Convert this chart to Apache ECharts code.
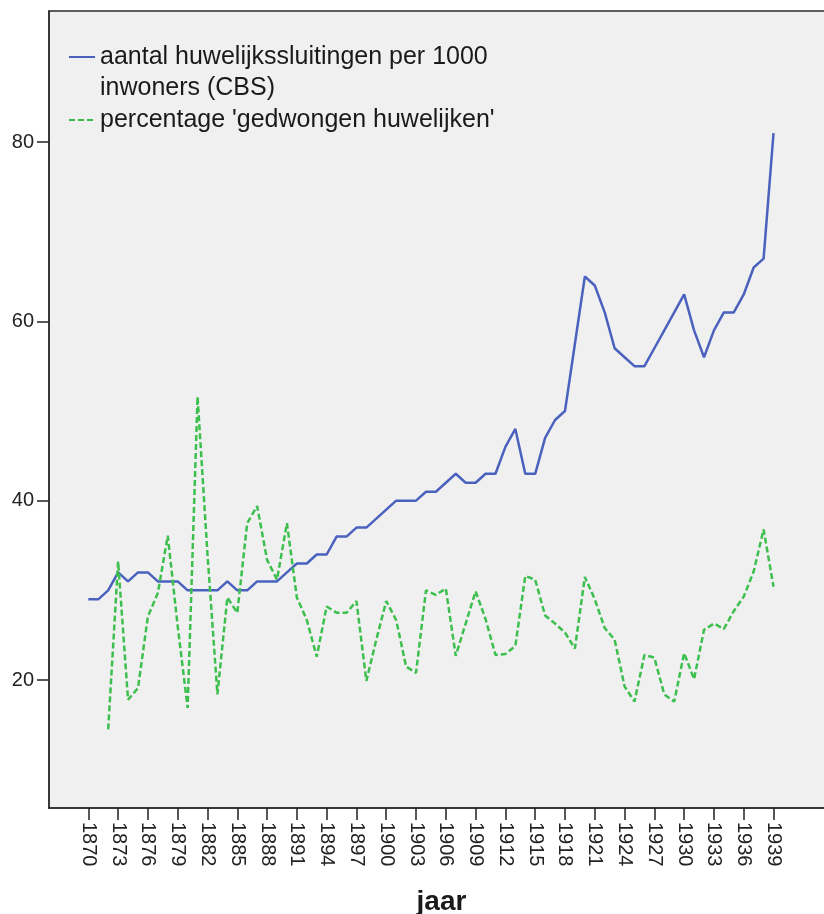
<!DOCTYPE html>
<html>
<head>
<meta charset="utf-8">
<script src="https://cdn.jsdelivr.net/npm/echarts@6/dist/echarts.min.js"></script>
<style>
html,body{margin:0;padding:0;background:#fff;}
#chart{width:824px;height:914px;}
</style>
</head>
<body>
<div id="chart"></div>
<script>
// ---- data ----
const years = [1870,1871,1872,1873,1874,1875,1876,1877,1878,1879,
  1880,1881,1882,1883,1884,1885,1886,1887,1888,1889,
  1890,1891,1892,1893,1894,1895,1896,1897,1898,1899,
  1900,1901,1902,1903,1904,1905,1906,1907,1908,1909,
  1910,1911,1912,1913,1914,1915,1916,1917,1918,1919,
  1920,1921,1922,1923,1924,1925,1926,1927,1928,1929,
  1930,1931,1932,1933,1934,1935,1936,1937,1938,1939];

const huwelijken = [29,29,30,32,31,32,32,31,31,31,
  30,30,30,30,31,30,30,31,31,31,
  32,33,33,34,34,36,36,37,37,38,
  39,40,40,40,41,41,42,43,42,42,
  43,43,46,48,43,43,47,49,50,57.5,
  65,64,61,57,56,55,55,57,59,61,
  63,59,56,59,61,61,63,66,67,81];

const gedwongen = [null,null,14.5,33.2,17.8,19.1,27.1,29.7,36.1,26,
  16.9,51.6,34,18.4,29.2,27.5,37.5,39.4,33.4,31.2,
  37.5,29.2,26.7,22.6,28.2,27.5,27.5,28.8,19.9,24.5,
  28.8,26.7,21.5,20.8,30,29.5,30.2,22.7,26.3,29.9,
  26.8,22.8,22.9,23.8,31.6,31.2,27.2,26.3,25.3,23.5,
  31.5,29,25.8,24.5,19.3,17.6,22.8,22.5,18.4,17.6,
  23,20.1,25.6,26.3,25.7,27.7,29.3,32.1,36.8,30.4];

const xTickLabels = [1870,1873,1876,1879,1882,1885,1888,1891,1894,1897,
  1900,1903,1906,1909,1912,1915,1918,1921,1924,1927,1930,1933,1936,1939];
const yTickLabels = [20,40,60,80];

const name1 = "aantal huwelijkssluitingen per 1000\ninwoners (CBS)";
const name2 = "percentage 'gedwongen huwelijken'";

// ---- chart ----
const FONT = "'Liberation Sans', Arial, sans-serif";
const chart = echarts.init(document.getElementById('chart'), null, {renderer:'canvas'});
chart.setOption({
  animation: false,
  backgroundColor: '#ffffff',
  grid: {
    left: 49, top: 11, right: -10, bottom: 106,
    outerBoundsMode: 'none', containLabel: false,
    show: true, backgroundColor: '#f0f0f0',
    borderColor: '#2b2b2b', borderWidth: 1.5
  },
  legend: {
    orient: 'vertical',
    left: 68, top: 10.5,
    padding: 0,
    itemGap: 1,
    itemWidth: 26, itemHeight: 14,
    itemStyle: {opacity: 0},
    textStyle: {fontFamily: FONT, fontSize: 25, lineHeight: 31, color: '#1a1a1a'},
    formatter: n => (n === name1 ? '\n' + n : n),
    data: [name1, name2]
  },
  xAxis: {
    type: 'value',
    min: 1866.04, max: 1945.09,
    name: 'jaar', nameLocation: 'middle', nameGap: 80,
    nameTextStyle: {fontFamily: FONT, fontSize: 28, fontWeight: 'bold', color: '#1a1a1a'},
    axisLine: {show: true, onZero: false, lineStyle: {color: '#2b2b2b', width: 1.5}},
    axisTick: {show: true, length: 12, customValues: xTickLabels, lineStyle: {color: '#222', width: 1.5}},
    axisLabel: {show: true, customValues: xTickLabels, rotate: -90, margin: 14,
      fontFamily: FONT, fontSize: 20, color: '#222', formatter: v => String(v)},
    splitLine: {show: false}
  },
  yAxis: {
    type: 'value',
    min: 5.73, max: 94.61,
    axisLine: {show: true, lineStyle: {color: '#2b2b2b', width: 1.5}},
    axisTick: {show: true, length: 12, customValues: yTickLabels, lineStyle: {color: '#222', width: 1.5}},
    axisLabel: {show: true, customValues: yTickLabels, margin: 15,
      fontFamily: FONT, fontSize: 20, color: '#222'},
    splitLine: {show: false}
  },
  series: [
    {
      name: name1, type: 'line', symbol: 'none',
      data: years.map((y, i) => [y, huwelijken[i]]),
      lineStyle: {color: '#4a62bd', width: 2.5},
      itemStyle: {color: '#4a62bd'}
    },
    {
      name: name2, type: 'line', symbol: 'none', connectNulls: false,
      data: years.map((y, i) => [y, gedwongen[i]]),
      lineStyle: {color: '#3dbf4e', width: 2.5, type: [6, 3]},
      itemStyle: {color: '#3dbf4e'}
    }
  ]
});
</script>
</body>
</html>
